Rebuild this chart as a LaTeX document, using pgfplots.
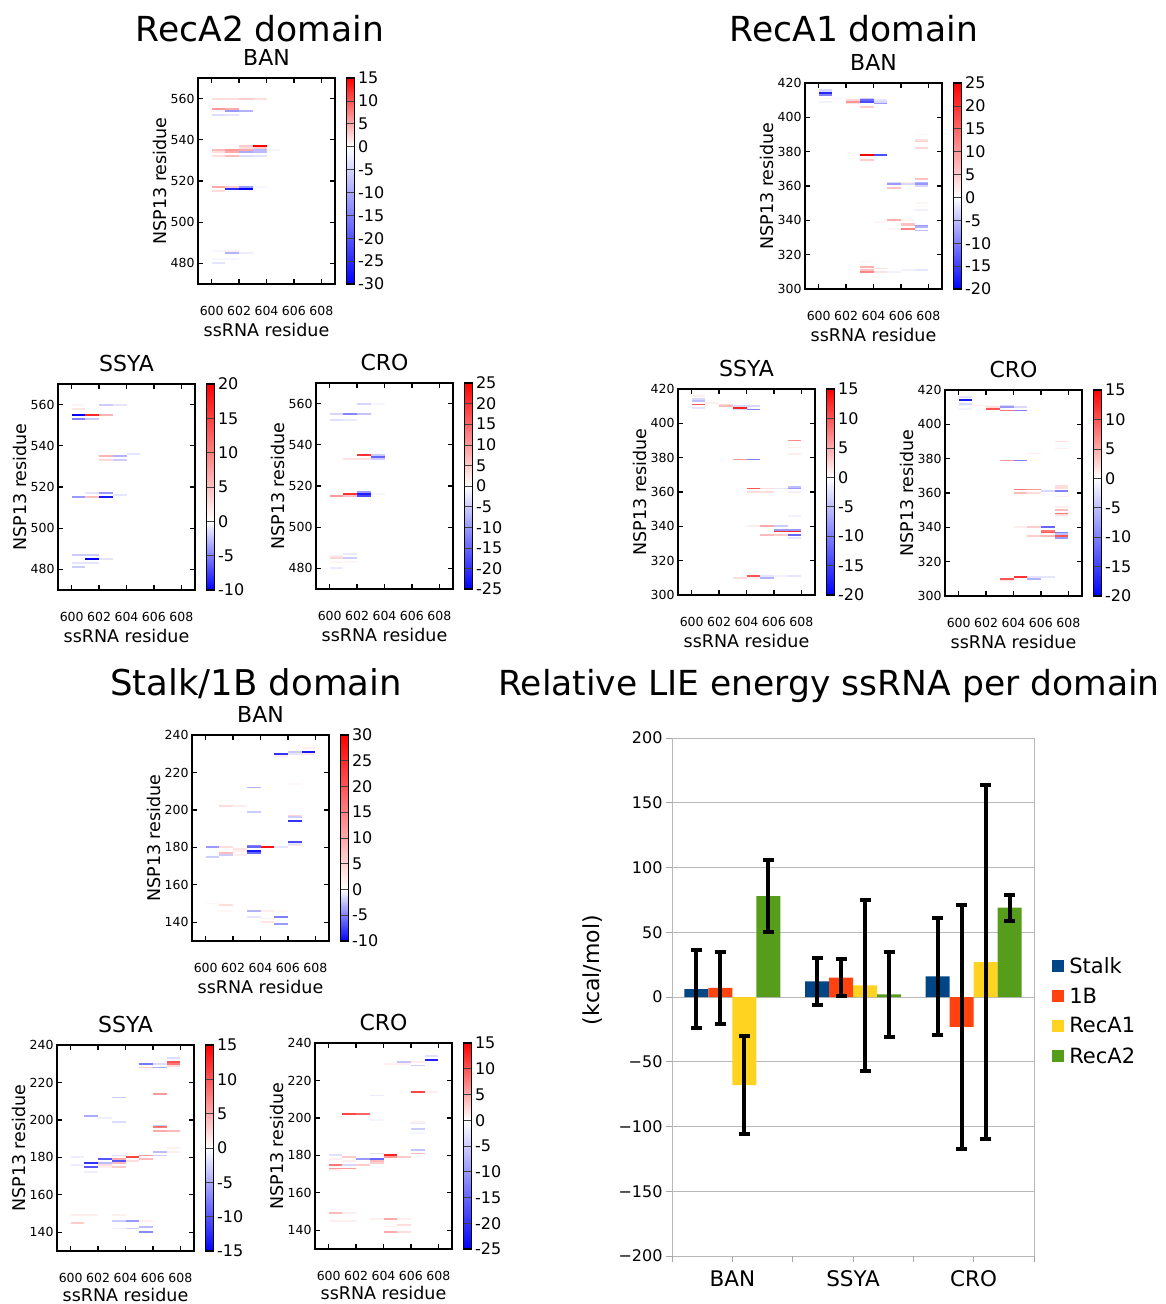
\documentclass[border=0pt]{standalone}
\usepackage{fontspec}
\setmainfont{DejaVu Sans}
\usepackage{pgfplots}
\pgfplotsset{compat=1.18}
\usepackage{pgfplotstable}

\definecolor{cStalk}{HTML}{004586}
\definecolor{cOneB}{HTML}{FF420E}
\definecolor{cRecAone}{HTML}{FFD320}
\definecolor{cRecAtwo}{HTML}{579D1C}

% one heat-map cell: one ssRNA residue wide, 2*mark size high
\pgfdeclareplotmark{cell}{%
  \pgfpathrectangle{\pgfpoint{-6.85pt}{-\pgfplotmarksize}}{\pgfpoint{13.7pt}{2\pgfplotmarksize}}%
  \pgfusepathqfill}

% ---- RecA2 domain ----
\pgfplotstableread{
x y v
600 560 2
601 560 2
602 560 3
603 560 2
600 555 6
601 555 5
600 554 -1
601 554 -12
602 554 -9
600 552 -4
601 552 -3
602 537 3
603 537 15
602 536 2
603 536 3
600 535 4
601 535 6
602 535 5
603 535 -8
604 535 -1
600 534 2
601 534 5
602 534 -10
603 534 -8
600 532 2
601 532 4
602 532 -4
603 532 -3
600 517 5
601 517 3
602 517 -12
603 517 -1
601 516 -25
602 516 -30
600 515 2
600 486 -1
601 486 1
601 485 -9
602 485 -2
600 482 -1
601 482 -1
600 480 -3
}\tAtwoBan

\pgfplotstableread{
x y v
600 560 1
602 560 -2
603 560 -1
600 558 2
600 555 -10
601 555 17
602 555 6
600 553 -5
601 553 -2
602 535 6
603 535 -3
604 536 -1
602 533 3
603 533 -2
601 517 -1
602 517 -4
600 515 -4
601 515 5
602 515 -9
603 516 -1
600 487 -2
601 487 -2
601 485 -10
602 485 -1
600 483 -1
601 483 -1
600 481 -2
}\tAtwoSsya

\pgfplotstableread{
x y v
602 560 -4
603 560 -1
600 555 -4
601 555 -12
602 555 -6
600 552 -3
601 552 -2
602 535 20
603 535 -5
603 534 -15
601 533 3
602 533 3
603 533 -5
601 516 20
602 517 -10
602 516 -22
600 515 10
601 515 6
602 515 -18
603 516 -1
600 486 2
600 485 4
601 485 -5
601 487 -2
600 483 1
601 483 1
600 480 -2
}\tAtwoCro

% ---- RecA1 domain ----
\pgfplotstableread{
x y v
600 416 -3
600 415 -3
600 414 -17
600 413 -10
600 411 1
601 411 1
600 409 -1
602 410 4
602 409 10
602 408 3
603 411 -4
603 410 -12
603 409 -14
603 406 5
604 410 -2
604 409 -3
604 408 -8
602 379 1
603 378 25
603 375 5
604 378 -14
605 362 -3
605 361 -8
605 359 6
606 362 2
606 361 -3
607 364 6
607 362 -6
607 361 -8
607 360 -3
607 390 1
607 387 3
607 386 5
607 382 4
607 350 1
607 348 1
607 346 -1
604 339 1
605 340 8
606 340 1
606 338 6
606 337 6
606 335 12
605 335 1
607 337 -8
607 336 -6
607 334 -5
603 316 1
603 313 8
603 311 6
603 310 12
604 312 3
604 310 3
605 310 -1
606 311 -1
607 311 -2
}\tAoneBan

\pgfplotstableread{
x y v
600 416 1
600 414 -3
600 413 -5
600 411 10
600 409 -2
601 412 1
602 411 2
602 410 4
603 410 -3
603 409 13
603 408 -3
604 410 -3
604 408 -10
603 379 6
604 379 -10
604 362 10
604 360 2
605 362 2
605 360 2
606 362 -2
607 363 -5
607 362 -8
607 360 -1
607 390 7
607 386 1
607 382 1
607 346 -1
604 340 1
605 340 5
606 340 -4
606 338 -8
606 337 12
605 335 4
606 335 3
607 338 -8
607 337 13
607 335 -12
607 333 -2
603 310 2
604 311 10
604 310 1
605 311 -2
605 310 -6
606 311 -1
607 311 -2
}\tAoneSsya

\pgfplotstableread{
x y v
600 416 -2
600 414 -18
600 412 -3
600 411 -1
600 409 -1
601 411 1
602 410 2
602 409 10
603 411 -3
603 410 -8
603 408 8
604 410 -3
604 408 -10
603 379 6
604 379 -10
605 383 1
604 362 8
604 360 4
605 362 6
605 360 2
606 361 -3
607 364 2
607 363 2
607 361 -10
607 358 1
607 352 1
607 350 4
607 348 8
607 347 2
607 390 2
607 386 1
604 340 1
605 340 3
606 340 -12
606 338 8
606 337 10
605 335 3
606 335 4
607 337 -10
607 336 -5
607 335 10
607 334 -8
603 310 10
603 309 2
604 311 12
605 310 -6
605 311 -2
606 311 -2
}\tAoneCro

% ---- Stalk/1B domain ----
\pgfplotstableread{
x y v
600 180 -4
600 175 -2
600 150 1
601 205 1
601 202 4
601 180 4
601 177 8
601 176 -2
601 149 4
601 146 1
602 202 2
602 179 3
602 178 2
602 176 2
603 212 -3
603 199 -2
603 181 -5
603 180 -6
603 178 -9
603 177 -6
603 146 -3
603 143 -1
604 180 28
604 146 2
604 142 2
604 140 3
605 230 -8
605 229 2
605 228 1
605 180 -1
605 146 1
605 143 -5
605 139 -4
606 231 -2
606 230 -1
606 214 1
606 197 5
606 196 -2
606 194 -8
606 183 -7
606 182 -1
606 181 3
607 233 2
607 231 -9
607 230 3
}\tStBan

\pgfplotstableread{
x y v
600 180 -1
600 176 -1
600 149 1
600 145 3
601 202 -5
601 177 -12
601 175 -10
601 172 -1
601 149 1
602 201 -1
602 179 -10
602 177 -4
602 176 2
602 175 1
603 212 -3
603 199 -2
603 181 -2
603 179 5
603 178 -10
603 177 4
603 175 3
603 149 1
603 146 -3
603 142 -1
604 180 11
604 178 2
604 146 -6
604 142 -3
605 230 -8
605 228 3
605 181 6
605 179 4
605 146 1
605 143 -4
605 140 -7
606 230 -2
606 228 -5
606 214 6
606 197 -3
606 196 8
606 194 5
606 183 -4
606 181 -3
607 233 -2
607 231 10
607 230 8
607 229 2
607 194 4
607 185 1
607 183 1
}\tStSsya

\pgfplotstableread{
x y v
600 180 -3
600 178 1
600 175 8
600 173 6
600 172 1
600 149 4
600 145 1
601 202 11
601 179 3
601 177 1
601 175 -4
601 173 6
601 149 1
601 145 1
602 202 9
602 178 -10
602 175 3
603 212 -2
603 199 -1
603 181 -3
603 178 -15
603 177 4
603 176 3
603 146 1
604 180 13
604 179 6
604 229 1
604 146 5
604 142 1
604 139 5
605 230 -6
605 229 1
605 179 3
605 146 1
605 143 2
605 139 2
606 230 1
606 228 -5
606 214 11
606 198 1
606 197 -2
606 194 -5
606 192 -1
606 183 -6
606 181 4
607 233 -3
607 231 -22
607 214 1
}\tStCro

\pgfplotsset{
  /pgf/number format/assume math mode=true,
  cbs/.style={
    at={(parent axis.north east)}, anchor=north west, xshift=3pt,
    width=8pt,
    axis line style={line width=1.4pt},
    tick align=inside, major tick length=8pt,
    every tick/.style={black!75, line width=0.6pt},
    yticklabel style={font=\fontsize{16}{18}\selectfont},
  },
  hm/.style={
    scale only axis, width=137pt, height=206pt, anchor=north west,
    xmin=599, xmax=609, xtick={600,602,...,608},
    axis line style={line width=1.5pt},
    tick align=inside, major tick length=5pt,
    every tick/.style={black, line width=1.3pt},
    tick label style={font=\fontsize{12.5}{14}\selectfont},
    xticklabel style={anchor=base, yshift=-31pt},
    xlabel={ssRNA residue}, ylabel={NSP13 residue},
    every axis x label/.style={at={(axis description cs:0.5,-0.257)}, anchor=base,
      font=\fontsize{17.5}{20}\selectfont},
    every axis y label/.style={at={(axis description cs:-0.23,0.5)}, rotate=90, anchor=base,
      font=\fontsize{17.5}{20}\selectfont},
    every axis title/.style={at={(axis description cs:0.5,1.063)}, anchor=base,
      font=\fontsize{22}{26}\selectfont},
    colorbar,
  },
  lowrow/.style={every axis x label/.append style={at={(axis description cs:0.5,-0.243)}}},
  rA2/.style={ymin=470, ymax=570, ytick={480,500,...,560}},
  rA1/.style={ymin=300, ymax=420, ytick={300,320,...,420}},
  rSt/.style={ymin=130, ymax=240, ytick={140,160,...,240}},
  hmcells/.style={scatter, only marks, mark=cell, mark size=#1, point meta=\thisrow{v}},
}

\begin{document}
\begin{tikzpicture}
\useasboundingbox (0pt,0pt) rectangle (1165pt,-1304pt);

\node[font=\fontsize{34.5}{40}\selectfont, anchor=base] at (260pt,-41pt) {RecA2 domain};
\node[font=\fontsize{34.5}{40}\selectfont, anchor=base] at (854pt,-41pt) {RecA1 domain};
\node[font=\fontsize{35.5}{40}\selectfont, anchor=base] at (256pt,-695pt) {Stalk/1B domain};
\node[font=\fontsize{34.5}{40}\selectfont, anchor=base] at (829pt,-695pt) {Relative LIE energy ssRNA per domain};

% RecA2 BAN
\begin{axis}[hm, rA2, at={(198pt,-78pt)}, title={BAN},
  colormap={mA}{rgb(0cm)=(0,0,1); rgb(30cm)=(1,1,1); rgb(45cm)=(1,0,0)},
  point meta min=-30, point meta max=15,
  colorbar style={cbs, ytick={-30,-25,...,15}}]
\addplot[hmcells=1.03pt] table[x expr=\thisrow{x}+0.5, y=y] {\tAtwoBan};
\end{axis}
% RecA2 SSYA
\begin{axis}[hm, rA2, at={(58pt,-384pt)}, title={SSYA},
  colormap={mB}{rgb(0cm)=(0,0,1); rgb(10cm)=(1,1,1); rgb(30cm)=(1,0,0)},
  point meta min=-10, point meta max=20,
  colorbar style={cbs, ytick={-10,-5,...,20}}]
\addplot[hmcells=1.03pt] table[x expr=\thisrow{x}+0.5, y=y] {\tAtwoSsya};
\end{axis}
% RecA2 CRO
\begin{axis}[hm, rA2, at={(316pt,-383pt)}, title={CRO},
  colormap={mC}{rgb(0cm)=(0,0,1); rgb(25cm)=(1,1,1); rgb(50cm)=(1,0,0)},
  point meta min=-25, point meta max=25,
  colorbar style={cbs, ytick={-25,-20,...,25}}]
\addplot[hmcells=1.03pt] table[x expr=\thisrow{x}+0.5, y=y] {\tAtwoCro};
\end{axis}

% RecA1 BAN
\begin{axis}[hm, rA1, at={(805pt,-83pt)}, title={BAN},
  colormap={mD}{rgb(0cm)=(0,0,1); rgb(20cm)=(1,1,1); rgb(45cm)=(1,0,0)},
  point meta min=-20, point meta max=25,
  colorbar style={cbs, ytick={-20,-15,...,25}}]
\addplot[hmcells=0.86pt] table[x expr=\thisrow{x}+0.5, y=y] {\tAoneBan};
\end{axis}
% RecA1 SSYA
\begin{axis}[hm, rA1, at={(678pt,-389pt)}, title={SSYA},
  colormap={mE}{rgb(0cm)=(0,0,1); rgb(20cm)=(1,1,1); rgb(35cm)=(1,0,0)},
  point meta min=-20, point meta max=15,
  colorbar style={cbs, ytick={-20,-15,...,15}}]
\addplot[hmcells=0.86pt] table[x expr=\thisrow{x}+0.5, y=y] {\tAoneSsya};
\end{axis}
% RecA1 CRO
\begin{axis}[hm, rA1, at={(945pt,-390pt)}, title={CRO},
  colormap={mF}{rgb(0cm)=(0,0,1); rgb(20cm)=(1,1,1); rgb(35cm)=(1,0,0)},
  point meta min=-20, point meta max=15,
  colorbar style={cbs, ytick={-20,-15,...,15}}]
\addplot[hmcells=0.86pt] table[x expr=\thisrow{x}+0.5, y=y] {\tAoneCro};
\end{axis}

% Stalk BAN
\begin{axis}[hm, rSt, at={(192pt,-735pt)}, title={BAN},
  colormap={mG}{rgb(0cm)=(0,0,1); rgb(10cm)=(1,1,1); rgb(40cm)=(1,0,0)},
  point meta min=-10, point meta max=30,
  colorbar style={cbs, ytick={-10,-5,...,30}}]
\addplot[hmcells=0.94pt] table[x expr=\thisrow{x}+0.5, y=y] {\tStBan};
\end{axis}
% Stalk SSYA
\begin{axis}[hm, lowrow, rSt, at={(57pt,-1045pt)}, title={SSYA},
  colormap={mH}{rgb(0cm)=(0,0,1); rgb(15cm)=(1,1,1); rgb(30cm)=(1,0,0)},
  point meta min=-15, point meta max=15,
  colorbar style={cbs, ytick={-15,-10,...,15}}]
\addplot[hmcells=0.94pt] table[x expr=\thisrow{x}+0.5, y=y] {\tStSsya};
\end{axis}
% Stalk CRO
\begin{axis}[hm, lowrow, rSt, at={(315pt,-1043pt)}, title={CRO},
  colormap={mI}{rgb(0cm)=(0,0,1); rgb(25cm)=(1,1,1); rgb(40cm)=(1,0,0)},
  point meta min=-25, point meta max=15,
  colorbar style={cbs, ytick={-25,-20,...,15}}]
\addplot[hmcells=0.94pt] table[x expr=\thisrow{x}+0.5, y=y] {\tStCro};
\end{axis}

% bar chart
\begin{axis}[
  at={(672pt,-738pt)}, anchor=north west,
  scale only axis, width=362pt, height=518pt,
  xmin=-0.5, xmax=2.5, ymin=-200, ymax=200,
  ybar=0pt, bar width=24pt,
  xtick={0,1,2}, xticklabels={BAN,SSYA,CRO},
  extra x ticks={-0.5,0.5,1.5,2.5}, extra x tick labels={},
  extra x tick style={grid=none},
  ytick={-200,-150,...,200},
  yticklabels={−200,−150,−100,−50,0,50,100,150,200},
  ymajorgrids, major grid style={black!28, line width=0.9pt},
  axis line style={black!28, line width=0.9pt},
  tick align=outside, major tick length=6pt,
  every tick/.style={black!35, line width=0.9pt},
  xtick pos=bottom, ytick pos=left,
  yticklabel style={font=\fontsize{16}{18}\selectfont},
  xticklabel style={font=\fontsize{21.5}{24}\selectfont, yshift=-5pt},
  ylabel={(kcal/mol)},
  every axis y label/.style={at={(axis description cs:-0.218,0.552)}, rotate=90,
    anchor=center, font=\fontsize{22}{26}\selectfont},
  legend cell align=left,
  legend style={at={(1.05,0.473)}, anchor=west, draw=none, fill=none,
    inner sep=0pt, row sep=9pt, font=\fontsize{21}{24}\selectfont,
    nodes={inner xsep=5pt}},
  legend image code/.code={\fill[#1] (0pt,-6pt) rectangle (12pt,6pt);},
  error bars/y dir=both, error bars/y explicit,
  error bars/error bar style={black, line width=4pt},
  error bars/error mark options={black, rotate=90, mark size=5.5pt, line width=4pt},
]
\addplot[fill=cStalk, draw=none] coordinates {(0,6) +- (0,30) (1,12) +- (0,18) (2,16) +- (0,45)};
\addplot[fill=cOneB, draw=none] coordinates {(0,7) +- (0,28) (1,15) +- (0,14) (2,-23) +- (0,94)};
\addplot[fill=cRecAone, draw=none] coordinates {(0,-68) +- (0,38) (1,9) +- (0,66) (2,27) +- (0,137)};
\addplot[fill=cRecAtwo, draw=none] coordinates {(0,78) +- (0,28) (1,2) +- (0,33) (2,69) +- (0,10)};
\legend{Stalk,1B,RecA1,RecA2}
\end{axis}
\end{tikzpicture}
\end{document}
